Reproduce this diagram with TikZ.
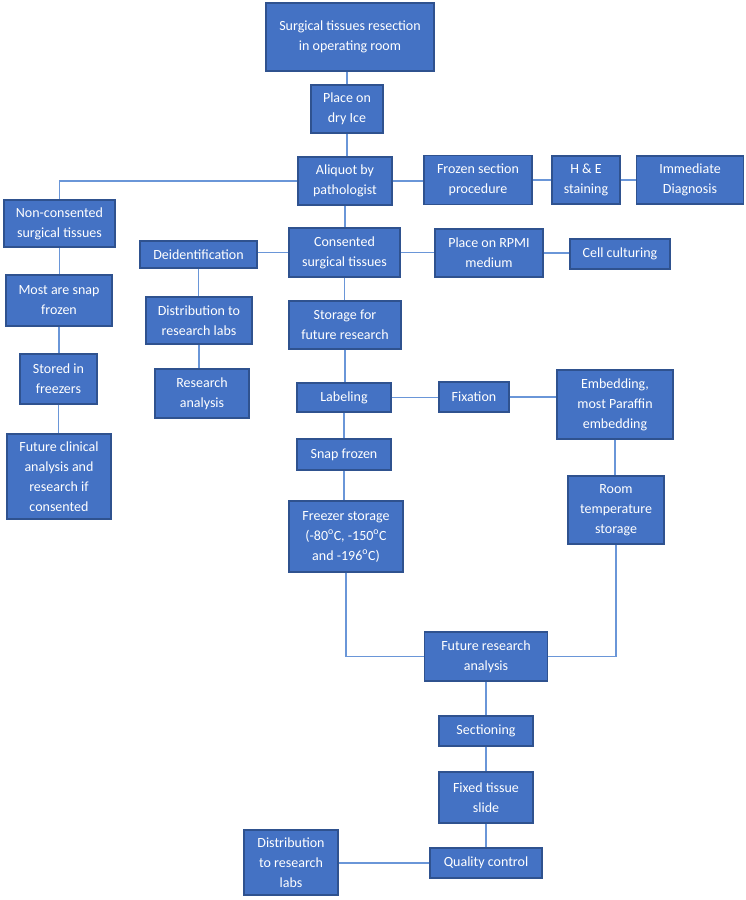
\documentclass[tikz,border=0pt]{standalone}
\usepackage{fontspec}
\setmainfont{Carlito}
\definecolor{boxfill}{HTML}{4472C4}
\definecolor{boxline}{HTML}{2F528F}
\definecolor{conn}{HTML}{6A96D8}
\begin{document}
\begin{tikzpicture}[x=1pt,y=-1pt,
  box/.style={draw=boxline, line width=1.3pt, fill=boxfill, text=white, align=center,
    inner sep=0pt, font=\fontsize{14}{20}\selectfont},
  link/.style={draw=conn, line width=1.2pt}]
\path[use as bounding box] (0,0) rectangle (745,900);
\node[box, minimum width=168pt, minimum height=68pt] (surg) at (350,37) {Surgical tissues resection\\in operating room};
\node[box, minimum width=72pt, minimum height=48pt] (dry) at (347,109) {Place on\\dry Ice};
\node[box, minimum width=94pt, minimum height=48pt] (ali) at (345,181) {Aliquot by\\pathologist};
\node[box, minimum width=108pt, minimum height=49pt] (froz) at (478,180) {Frozen section\\procedure};
\node[box, minimum width=68pt, minimum height=48pt] (he) at (586,180) {H \& E\\staining};
\node[box, minimum width=107pt, minimum height=48pt] (imm) at (690,180) {Immediate\\Diagnosis};
\node[box, minimum width=111pt, minimum height=47pt] (noncons) at (59.5,223.5) {Non-consented\\surgical tissues};
\node[box, minimum width=117pt, minimum height=27pt] (deid) at (198.5,254.5) {Deidentification};
\node[box, minimum width=111pt, minimum height=49pt] (cons) at (344.5,252.5) {Consented\\surgical tissues};
\node[box, minimum width=108pt, minimum height=48pt] (rpmi) at (489,253) {Place on RPMI\\medium};
\node[box, minimum width=100pt, minimum height=30pt] (cell) at (620,254) {Cell culturing};
\node[box, minimum width=106pt, minimum height=51pt] (most) at (59,300.5) {Most are snap\\frozen};
\node[box, minimum width=106pt, minimum height=47pt] (dist1) at (199,320.5) {Distribution to\\research labs};
\node[box, minimum width=112pt, minimum height=48pt] (stor) at (345,325) {Storage for\\future research};
\node[box, minimum width=77pt, minimum height=50pt] (stored) at (58.5,379) {Stored in\\freezers};
\node[box, minimum width=94pt, minimum height=49pt] (resan) at (202,393.5) {Research\\analysis};
\node[box, minimum width=94pt, minimum height=29pt] (lab) at (344,397.5) {Labeling};
\node[box, minimum width=70pt, minimum height=30pt] (fix) at (474,397) {Fixation};
\node[box, minimum width=116pt, minimum height=69pt] (emb) at (615,404.5) {Embedding,\\most Paraffin\\embedding};
\node[box, minimum width=94pt, minimum height=31pt] (snap) at (344,454.5) {Snap frozen};
\node[box, minimum width=104pt, minimum height=85pt] (futclin) at (59,476.5) {Future clinical\\analysis and\\research if\\consented};
\node[box, minimum width=96pt, minimum height=68pt] (room) at (616,510) {Room\\temperature\\storage};
\node[box, minimum width=114pt, minimum height=71pt] (frz) at (346,536.5) {Freezer storage\\(-80\textsuperscript{o}C, -150\textsuperscript{o}C\\and -196\textsuperscript{o}C)};
\node[box, minimum width=123pt, minimum height=49pt] (futres) at (486,656.5) {Future research\\analysis};
\node[box, minimum width=94pt, minimum height=30pt] (sect) at (486,731) {Sectioning};
\node[box, minimum width=94pt, minimum height=51pt] (fixed) at (486,797.5) {Fixed tissue\\slide};
\node[box, minimum width=112pt, minimum height=30pt] (qc) at (486,863) {Quality control};
\node[box, minimum width=94pt, minimum height=65pt] (dist2) at (291,862.5) {Distribution\\to research\\labs};
% connectors
\draw[link] (dry.north) -- (dry.north |- surg.south);
\draw[link] (ali.north -| dry.south) -- (dry.south);
\draw[link] (ali.south) -- (ali.south |- cons.north);
\draw[link] (ali.west) -| (noncons.north);
\draw[link] (ali.east) -- (froz.west |- ali.east);
\draw[link] (froz.east) -- (he.west);
\draw[link] (he.east) -- (imm.west);
\draw[link] (cons.west) -- (deid.east |- cons.west);
\draw[link] (cons.east) -- (rpmi.west |- cons.east);
\draw[link] (rpmi.east) -- (cell.west |- rpmi.east);
\draw[link] (deid.south) -- (deid.south |- dist1.north);
\draw[link] (dist1.south) -- (dist1.south |- resan.north);
\draw[link] (noncons.south) -- (noncons.south |- most.north);
\draw[link] (most.south) -- (most.south |- stored.north);
\draw[link] (stored.south) -- (stored.south |- futclin.north);
\draw[link] (cons.south) -- (cons.south |- stor.north);
\draw[link] (stor.south) -- (stor.south |- lab.north);
\draw[link] (lab.south) -- (snap.north);
\draw[link] (snap.south) -- (snap.south |- frz.north);
\draw[link] (lab.east) -- (fix.west |- lab.east);
\draw[link] (fix.east) -- (emb.west |- fix.east);
\draw[link] (emb.south) -- (emb.south |- room.north);
\draw[link] (frz.south) |- (futres.west);
\draw[link] (room.south) |- (futres.east);
\draw[link] (futres.south) -- (sect.north);
\draw[link] (sect.south) -- (fixed.north);
\draw[link] (fixed.south) -- (qc.north);
\draw[link] (qc.west) -- (dist2.east |- qc.west);
\end{tikzpicture}
\end{document}
